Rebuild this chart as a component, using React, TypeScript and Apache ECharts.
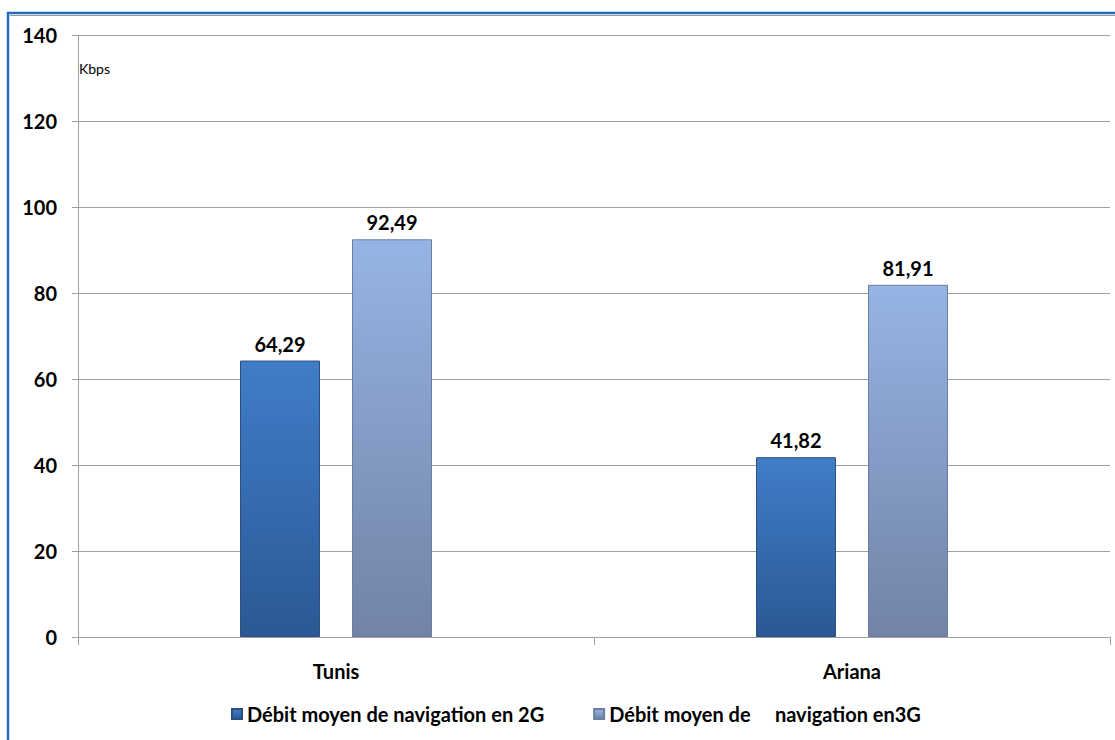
import React, { useEffect, useRef } from "react";
import * as echarts from "echarts";

const categories = ["Tunis", "Ariana"];
const series2G = [64.29, 41.82];
const series3G = [92.49, 81.91];
const seriesNames = ["Débit moyen de navigation en 2G", "Débit moyen de     navigation en3G"];
const yTicks = [0, 20, 40, 60, 80, 100, 120, 140];
const unitLabel = "Kbps";

const FONT = "Lato, 'Open Sans', sans-serif";

export default function App() {
  const ref = useRef<HTMLDivElement>(null);
  useEffect(() => {
    if (!ref.current) return;
    const chart = echarts.init(ref.current, null, { renderer: "svg" });
    const fmt = (v: number) => v.toFixed(2).replace(".", ",");
    const grad2G = new echarts.graphic.LinearGradient(0, 0, 0, 1, [
      { offset: 0, color: "#407dc8" },
      { offset: 1, color: "#2b5894" },
    ]);
    const grad3G = new echarts.graphic.LinearGradient(0, 0, 0, 1, [
      { offset: 0, color: "#96b4e4" },
      { offset: 1, color: "#7283a6" },
    ]);
    const labelCfg = {
      show: true,
      position: "top",
      distance: 7,
      formatter: (p: any) => fmt(p.value),
      fontSize: 20,
      fontWeight: "bold",
      color: "#000",
      fontFamily: FONT,
    };
    chart.setOption({
      animation: false,
      backgroundColor: "#ffffff",
      textStyle: { fontFamily: FONT },
      grid: { left: 78, right: 5, top: 35, bottom: 103, containLabel: false },
      graphic: [
        {
          type: "rect",
          shape: { x: 8, y: 13, width: 1200, height: 800 },
          style: { fill: "none", stroke: "#1f6fc0", lineWidth: 2.5 },
          silent: true,
        },
        {
          type: "line",
          shape: { x1: 10, y1: 15.5, x2: 1115, y2: 15.5 },
          style: { stroke: "#9a9a9a", lineWidth: 1 },
          silent: true,
        },
        {
          type: "text",
          x: 79,
          y: 61,
          style: { text: unitLabel, font: `14px ${FONT}`, fill: "#000" },
          silent: true,
        },
      ],
      legend: {
        bottom: 11,
        left: 226,
        itemWidth: 10,
        itemHeight: 10,
        itemGap: 49,
        icon: "rect",
        textStyle: { fontSize: 20, fontWeight: "bold", color: "#000", fontFamily: FONT },
        data: seriesNames,
      },
      xAxis: {
        type: "category",
        data: categories,
        axisLine: { lineStyle: { color: "#a0a0a0", width: 1 } },
        axisTick: { show: true, length: 8, lineStyle: { color: "#a0a0a0" } },
        axisLabel: { fontSize: 20, fontWeight: "bold", color: "#000", margin: 24, fontFamily: FONT },
      },
      yAxis: {
        type: "value",
        min: yTicks[0],
        max: yTicks[yTicks.length - 1],
        interval: 20,
        axisLine: { show: true, lineStyle: { color: "#a0a0a0", width: 1 } },
        axisTick: { show: true, length: 6, lineStyle: { color: "#a0a0a0" } },
        splitLine: { lineStyle: { color: "#a0a0a0", width: 1 } },
        axisLabel: { fontSize: 20, fontWeight: "bold", color: "#000", margin: 21, fontFamily: FONT },
      },
      series: [
        {
          name: seriesNames[0],
          type: "bar",
          data: series2G,
          barWidth: 80,
          barGap: "40%",
          itemStyle: { color: grad2G, borderColor: "#2a4f80", borderWidth: 1 },
          label: labelCfg,
        },
        {
          name: seriesNames[1],
          type: "bar",
          data: series3G,
          barWidth: 80,
          barGap: "40%",
          itemStyle: { color: grad3G, borderColor: "#6a7ea3", borderWidth: 1 },
          label: labelCfg,
        },
      ],
    });
    return () => chart.dispose();
  }, []);
  return (
    <div
      ref={ref}
      style={{ position: "absolute", left: 0, top: 0, width: 1115, height: 740 }}
    />
  );
}
